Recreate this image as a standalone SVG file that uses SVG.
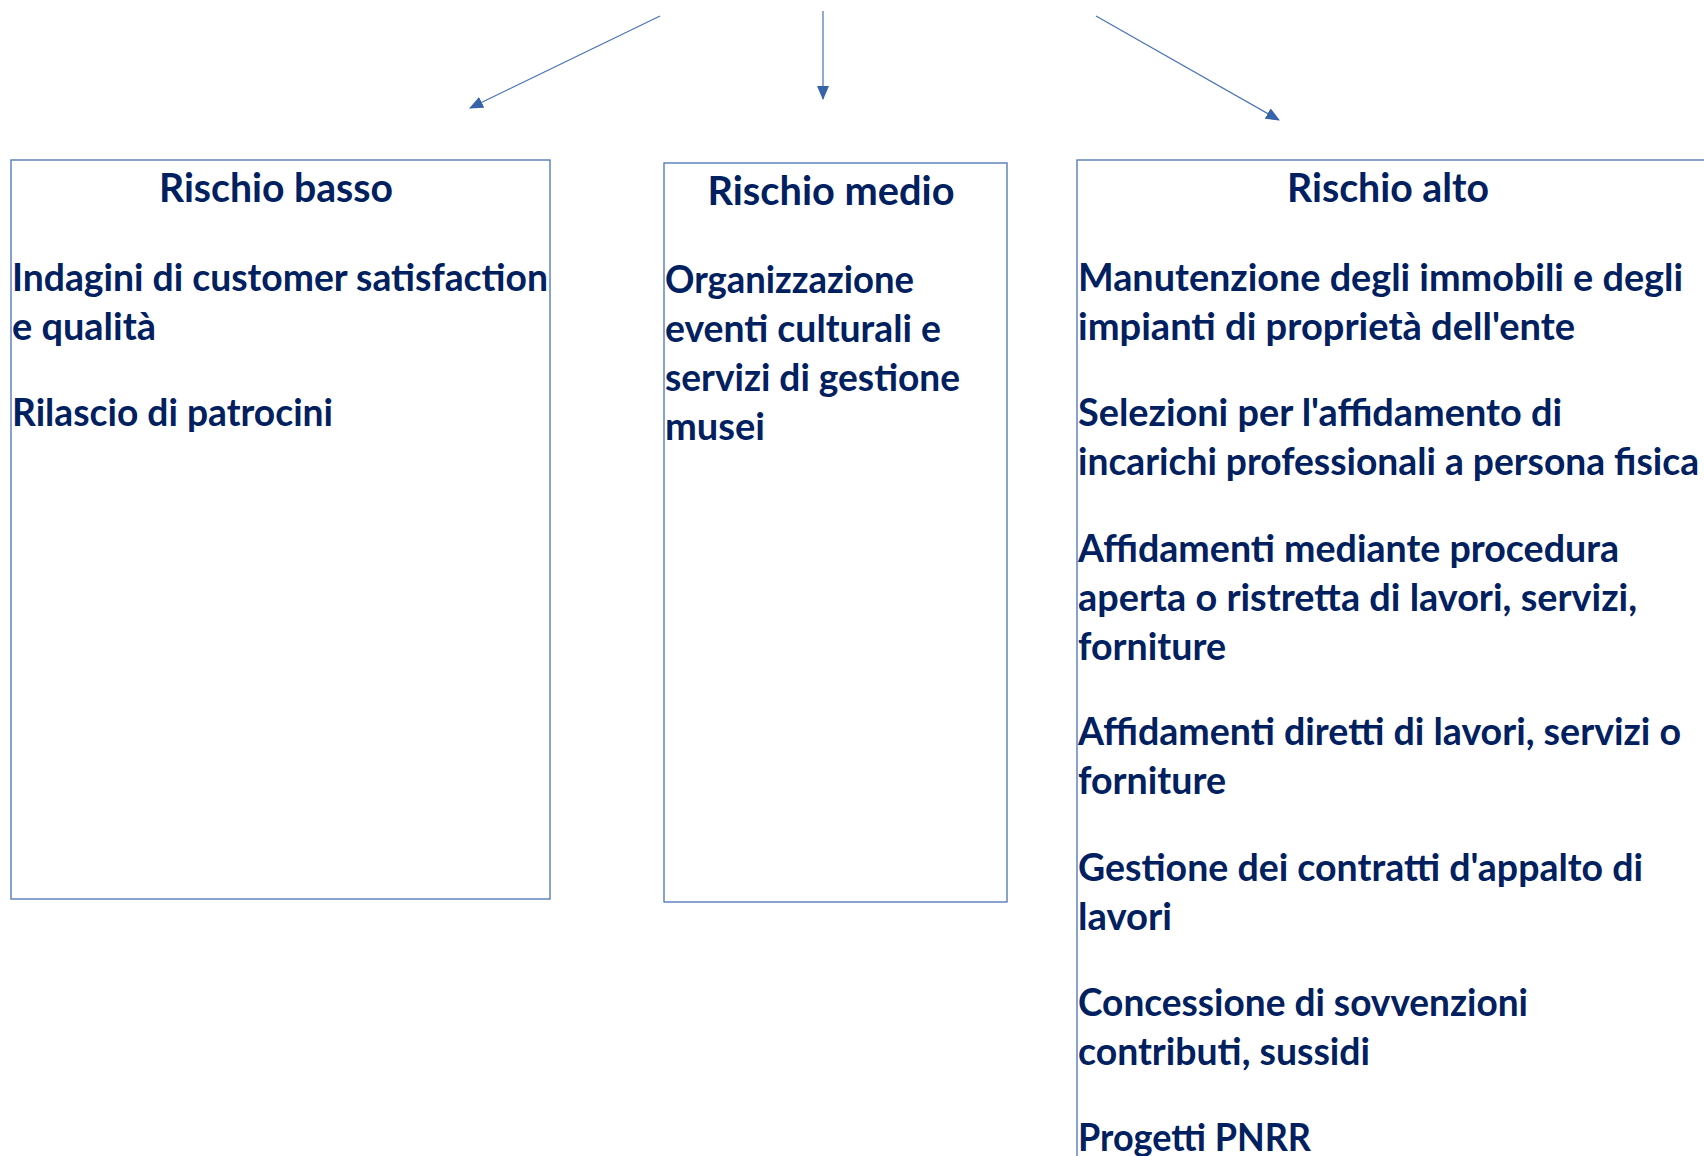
<svg xmlns="http://www.w3.org/2000/svg" width="1704" height="1156" viewBox="0 0 1704 1156">
<style>
.box{fill:#ffffff;stroke:#4a72b6;stroke-width:1.3}
.t{font-family:Lato,"Liberation Sans",sans-serif;font-weight:bold;fill:#002060;font-size:38px}
.h{font-family:Lato,"Liberation Sans",sans-serif;font-weight:bold;fill:#002060;font-size:40px;text-anchor:middle}
.c{stroke:#4a72b6;stroke-width:1.2;fill:none;marker-end:url(#ah)}
</style>
<defs>
<marker id="ah" markerUnits="userSpaceOnUse" markerWidth="14" markerHeight="12" refX="13" refY="6" orient="auto">
<path d="M0,0 L14,6 L0,12 Z" fill="#3763a9"/>
</marker>
</defs>
<rect width="1704" height="1156" fill="#ffffff"/>
<g id="connectors">
<line class="c" x1="660" y1="16" x2="470" y2="108"/>
<line class="c" x1="823" y1="11" x2="823" y2="99"/>
<line class="c" x1="1096" y1="16" x2="1279" y2="120"/>
</g>
<g id="rischio-basso">
<rect class="box" x="11" y="160" width="539" height="739"/>
<text class="h" x="276" y="202" textLength="234" lengthAdjust="spacingAndGlyphs">Rischio basso</text>
<text class="t" x="12" y="291" textLength="536" lengthAdjust="spacingAndGlyphs">Indagini di customer satisfaction</text>
<text class="t" x="12" y="340" textLength="144" lengthAdjust="spacingAndGlyphs">e qualità</text>
<text class="t" x="12" y="426" textLength="321" lengthAdjust="spacingAndGlyphs">Rilascio di patrocini</text>
</g>
<g id="rischio-medio">
<rect class="box" x="664" y="163" width="343" height="739"/>
<text class="h" x="831" y="205" textLength="247" lengthAdjust="spacingAndGlyphs">Rischio medio</text>
<text class="t" x="665" y="293" textLength="249" lengthAdjust="spacingAndGlyphs">Organizzazione</text>
<text class="t" x="665" y="342" textLength="276" lengthAdjust="spacingAndGlyphs">eventi culturali e</text>
<text class="t" x="665" y="391" textLength="295" lengthAdjust="spacingAndGlyphs">servizi di gestione</text>
<text class="t" x="665" y="440" textLength="100" lengthAdjust="spacingAndGlyphs">musei</text>
</g>
<g id="rischio-alto">
<rect class="box" x="1077" y="160" width="700" height="1100"/>
<text class="h" x="1388" y="202" textLength="202" lengthAdjust="spacingAndGlyphs">Rischio alto</text>
<text class="t" x="1078" y="291" textLength="605" lengthAdjust="spacingAndGlyphs">Manutenzione degli immobili e degli</text>
<text class="t" x="1078" y="340" textLength="497" lengthAdjust="spacingAndGlyphs">impianti di proprietà dell'ente</text>
<text class="t" x="1078" y="426" textLength="484" lengthAdjust="spacingAndGlyphs">Selezioni per l'affidamento di</text>
<text class="t" x="1078" y="475" textLength="621" lengthAdjust="spacingAndGlyphs">incarichi professionali a persona fisica</text>
<text class="t" x="1078" y="562" textLength="541" lengthAdjust="spacingAndGlyphs">Affidamenti mediante procedura</text>
<text class="t" x="1078" y="611" textLength="559" lengthAdjust="spacingAndGlyphs">aperta o ristretta di lavori, servizi,</text>
<text class="t" x="1078" y="660" textLength="148" lengthAdjust="spacingAndGlyphs">forniture</text>
<text class="t" x="1078" y="745" textLength="603" lengthAdjust="spacingAndGlyphs">Affidamenti diretti di lavori, servizi o</text>
<text class="t" x="1078" y="794" textLength="148" lengthAdjust="spacingAndGlyphs">forniture</text>
<text class="t" x="1078" y="881" textLength="565" lengthAdjust="spacingAndGlyphs">Gestione dei contratti d'appalto di</text>
<text class="t" x="1078" y="930" textLength="94" lengthAdjust="spacingAndGlyphs">lavori</text>
<text class="t" x="1078" y="1016" textLength="450" lengthAdjust="spacingAndGlyphs">Concessione di sovvenzioni</text>
<text class="t" x="1078" y="1065" textLength="292" lengthAdjust="spacingAndGlyphs">contributi, sussidi</text>
<text class="t" x="1078" y="1151" textLength="233" lengthAdjust="spacingAndGlyphs">Progetti PNRR</text>
</g>
</svg>
